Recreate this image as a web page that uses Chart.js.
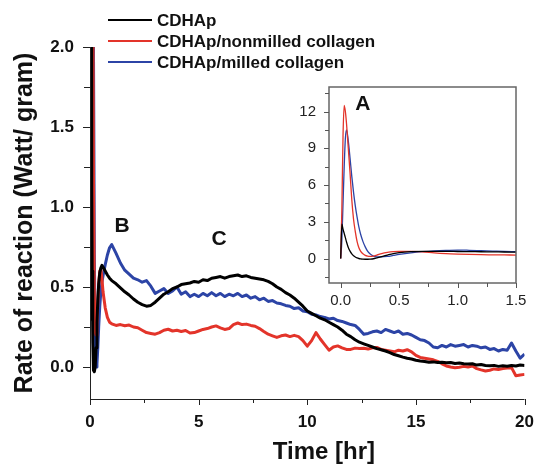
<!DOCTYPE html>
<html>
<head>
<meta charset="utf-8">
<script src="https://cdn.jsdelivr.net/npm/chart.js@4.4.0/dist/chart.umd.min.js"></script>
<style>
  html, body { margin: 0; padding: 0; background: #fff; }
  #wrap { position: relative; width: 541px; height: 465px; }
  #main { position: absolute; left: 0; top: 0; }
  #inset { position: absolute; left: 279px; top: 70px; }
</style>
</head>
<body>
<div id="wrap">
  <canvas id="main" width="541" height="465"></canvas>
  <canvas id="inset" width="262" height="245"></canvas>
</div>
<script>
// ---------------- DATA ----------------
const seriesNames = ['CDHAp', 'CDHAp/nonmilled collagen', 'CDHAp/milled collagen'];
const seriesColors = ['#000000', '#e3342a', '#2c44a6'];

// Main plot: time (hr)
const hours = [
  0, 0.03, 0.05, 0.08, 0.1, 0.13, 0.16, 0.2, 0.24, 0.28, 0.32, 0.36, 0.4, 0.45, 0.5, 0.55, 0.6, 0.7, 0.8, 0.9,
  1.0, 1.2, 1.4, 1.6, 1.8, 2.0, 2.2, 2.4, 2.6, 2.8, 3.0, 3.2, 3.4, 3.6, 3.8, 4.0, 4.2, 4.4, 4.6, 4.8,
  5.0, 5.2, 5.4, 5.6, 5.8, 6.0, 6.2, 6.4, 6.6, 6.8, 7.0, 7.2, 7.4, 7.6, 7.8, 8.0, 8.2, 8.4, 8.6, 8.8,
  9.0, 9.2, 9.4, 9.6, 9.8, 10.0, 10.2, 10.4, 10.6, 10.8, 11.0, 11.2, 11.4, 11.6, 11.8, 12.0, 12.2, 12.4, 12.6, 12.8,
  13.0, 13.2, 13.4, 13.6, 13.8, 14.0, 14.2, 14.4, 14.6, 14.8, 15.0, 15.2, 15.4, 15.6, 15.8, 16.0, 16.2, 16.4, 16.6, 16.8,
  17.0, 17.2, 17.4, 17.6, 17.8, 18.0, 18.2, 18.4, 18.6, 18.8, 19.0, 19.2, 19.4, 19.6, 19.8, 20.0
];

const cdhap = [
  0.3, 2.8, 2.2, 1.1, 0.6, 0.15, -0.02, -0.03, 0.0, 0.12, 0.28, 0.42, 0.52, 0.59, 0.62, 0.635, 0.625, 0.6, 0.575, 0.555,
  0.54, 0.52, 0.495, 0.47, 0.45, 0.425, 0.405, 0.39, 0.38, 0.385, 0.405, 0.43, 0.455, 0.47, 0.49, 0.5, 0.515, 0.52, 0.525, 0.535,
  0.53, 0.545, 0.54, 0.555, 0.56, 0.565, 0.555, 0.565, 0.57, 0.575, 0.565, 0.57, 0.56, 0.555, 0.55, 0.545, 0.535, 0.52, 0.5, 0.485,
  0.465, 0.45, 0.43, 0.405, 0.38, 0.35, 0.335, 0.32, 0.305, 0.295, 0.28, 0.265, 0.25, 0.23, 0.205, 0.19, 0.17, 0.155, 0.145, 0.135,
  0.125, 0.115, 0.108, 0.1, 0.09, 0.078, 0.07, 0.062, 0.055, 0.05, 0.042, 0.038, 0.035, 0.03, 0.032, 0.028, 0.03, 0.026, 0.028, 0.022,
  0.025, 0.02, 0.018, 0.02, 0.012, 0.015, 0.01, 0.008, 0.01, 0.004, 0.008, 0.005, 0.01, 0.006, 0.012, 0.01
];

const nonmilled = [
  0.3, 12.5, 11.0, 7.8, 5.5, 2.5, 1.2, 0.45, 0.22, 0.2, 0.27, 0.4, 0.52, 0.6, 0.61, 0.55, 0.47, 0.37, 0.31, 0.28,
  0.27, 0.26, 0.265, 0.258, 0.262, 0.25, 0.245, 0.23, 0.215, 0.21, 0.205, 0.215, 0.23, 0.236, 0.225, 0.23, 0.222, 0.228, 0.212, 0.215,
  0.225, 0.235, 0.24, 0.25, 0.257, 0.245, 0.235, 0.24, 0.265, 0.275, 0.265, 0.268, 0.26, 0.255, 0.24, 0.222, 0.205, 0.195, 0.185, 0.195,
  0.2, 0.19, 0.198, 0.19, 0.165, 0.13, 0.165, 0.215, 0.175, 0.14, 0.105, 0.125, 0.132, 0.12, 0.11, 0.11, 0.118, 0.115, 0.117, 0.112,
  0.12, 0.122, 0.11, 0.105, 0.1, 0.095, 0.105, 0.1, 0.108, 0.095, 0.072, 0.06, 0.055, 0.05, 0.045, 0.035, 0.02, 0.006, 0.0, -0.005,
  -0.002, 0.004, 0.0, 0.006, -0.01, -0.018, -0.025, -0.02, -0.012, -0.016, -0.01, -0.006, -0.004, -0.055, -0.05, -0.046
];

const milled = [
  0.3, 6.0, 10.5, 8.5, 6.5, 4.0, 2.0, 0.7, 0.15, 0.0, 0.02, 0.12, 0.25, 0.38, 0.47, 0.53, 0.57, 0.64, 0.7, 0.745,
  0.765, 0.71, 0.65, 0.605, 0.58, 0.555, 0.545, 0.53, 0.54, 0.505, 0.46, 0.475, 0.49, 0.46, 0.475, 0.5, 0.455, 0.47, 0.44, 0.455,
  0.44, 0.46, 0.445, 0.465, 0.445, 0.46, 0.44, 0.455, 0.445, 0.46, 0.44, 0.45, 0.43, 0.44, 0.42, 0.43, 0.41, 0.415, 0.4, 0.395,
  0.385, 0.38, 0.365, 0.37, 0.35, 0.345, 0.33, 0.325, 0.315, 0.31, 0.3, 0.305, 0.29, 0.285, 0.275, 0.265, 0.26, 0.235, 0.205, 0.21,
  0.22, 0.225, 0.215, 0.235, 0.225, 0.215, 0.225, 0.205, 0.21, 0.2, 0.185, 0.17, 0.165, 0.15, 0.125, 0.12, 0.135, 0.125, 0.14, 0.13,
  0.135, 0.14, 0.125, 0.135, 0.13, 0.12, 0.125, 0.11, 0.115, 0.1, 0.11, 0.105, 0.15, 0.1, 0.055, 0.08
];

// Inset plot (first 1.5 hr)
const insetHours = [
  0, 0.01, 0.02, 0.03, 0.04, 0.05, 0.065, 0.08, 0.095, 0.11, 0.125, 0.14, 0.155, 0.17, 0.19, 0.21, 0.23, 0.25,
  0.28, 0.31, 0.35, 0.4, 0.45, 0.5, 0.6, 0.7, 0.8, 0.9, 1.0, 1.1, 1.2, 1.3, 1.4, 1.5
];
const insetCdhap = [
  0, 2.8, 2.4, 2.05, 1.7, 1.35, 0.9, 0.6, 0.38, 0.22, 0.12, 0.05, 0.0, -0.03, -0.05, -0.06, -0.06, -0.05,
  -0.02, 0.05, 0.15, 0.28, 0.4, 0.48, 0.56, 0.58, 0.58, 0.58, 0.57, 0.56, 0.55, 0.54, 0.53, 0.52
];
const insetNonmilled = [
  0, 4.0, 10.0, 12.5, 12.0, 11.0, 9.0, 7.0, 4.8, 3.2, 2.2, 1.4, 0.9, 0.6, 0.38, 0.26, 0.2, 0.18,
  0.2, 0.28, 0.4, 0.5, 0.56, 0.58, 0.58, 0.54, 0.46, 0.4, 0.36, 0.33, 0.31, 0.3, 0.29, 0.28
];
const insetMilled = [
  0, 1.5, 4.5, 7.5, 9.8, 10.5, 9.6, 8.2, 6.7, 5.4, 4.3, 3.4, 2.6, 2.0, 1.4, 0.95, 0.6, 0.38,
  0.2, 0.14, 0.13, 0.17, 0.25, 0.33, 0.46, 0.56, 0.63, 0.67, 0.69, 0.67, 0.64, 0.61, 0.58, 0.56
];

// Tick positions (labels are shown on the major ones)
const mainXTicks = [0, 2.5, 5, 7.5, 10, 12.5, 15, 17.5, 20];
const mainYTicks = [0, 0.25, 0.5, 0.75, 1.0, 1.25, 1.5, 1.75, 2.0];
const insetXTicks = [0, 0.25, 0.5, 0.75, 1.0, 1.25, 1.5];
const insetYTicks = [-1.5, 0, 1.5, 3, 4.5, 6, 7.5, 9, 10.5, 12, 13.5];
const mainXMajor = 5, mainYMajor = 0.5, insetXMajor = 0.5, insetYMajor = 3;

// Region labels (in data units)
const mainMarks = [ { text: 'B', x: 1.48, y: 0.88 }, { text: 'C', x: 5.94, y: 0.80 } ];
const insetMarks = [ { text: 'A', x: 0.19, y: 12.6 } ];

// ---------------- HELPERS ----------------
const FONT = "'Liberation Sans', Arial, Helvetica, sans-serif";
function pts(xs, ys) { return xs.map((x, i) => ({ x: x, y: ys[i] })); }
function isMultiple(v, m) { const r = v / m; return Math.abs(r - Math.round(r)) < 1e-6; }
function labeler(major, decimals) {
  return function (value) {
    if (!isMultiple(value, major)) return '';
    return decimals ? Number(value).toFixed(decimals) : String(Math.round(value));
  };
}
function fixedTicks(arr) { return function (scale) { scale.ticks = arr.map(v => ({ value: v })); }; }

const marksPlugin = {
  id: 'marks',
  afterDatasetsDraw(chart, args, opts) {
    const ctx = chart.ctx;
    ctx.save();
    ctx.font = 'bold 21px ' + FONT;
    ctx.fillStyle = '#111';
    ctx.textAlign = 'center';
    ctx.textBaseline = 'middle';
    (opts.items || []).forEach(m => {
      ctx.fillText(m.text, chart.scales.x.getPixelForValue(m.x), chart.scales.y.getPixelForValue(m.y));
    });
    ctx.restore();
  }
};

const legendPlugin = {
  id: 'sideLegend',
  afterDraw(chart, args, opts) {
    if (!opts.enabled) return;
    const ctx = chart.ctx;
    ctx.save();
    ctx.font = 'bold 17px ' + FONT;
    ctx.textBaseline = 'middle';
    ctx.textAlign = 'left';
    chart.data.datasets.forEach((ds, i) => {
      const y = 20 + i * 21;
      ctx.strokeStyle = ds.borderColor;
      ctx.lineWidth = 2;
      ctx.beginPath(); ctx.moveTo(108, y); ctx.lineTo(152, y); ctx.stroke();
      ctx.fillStyle = '#111';
      ctx.fillText(ds.label, 157, y + 1);
    });
    ctx.restore();
  }
};

const framePlugin = {
  id: 'frame',
  afterDraw(chart, args, opts) {
    const a = chart.chartArea, ctx = chart.ctx;
    ctx.save();
    ctx.strokeStyle = opts.color;
    ctx.lineWidth = opts.width;
    if (opts.box) {
      ctx.strokeRect(a.left, a.top, a.right - a.left, a.bottom - a.top);
    } else {
      ctx.beginPath();
      ctx.moveTo(Math.round(a.left) + 0.5, a.top);
      ctx.lineTo(Math.round(a.left) + 0.5, a.bottom + 0.5);
      ctx.lineTo(a.right, a.bottom + 0.5);
      ctx.stroke();
    }
    // outward tick marks from the scales
    ctx.lineWidth = 1;
    ctx.strokeStyle = opts.tickColor;
    const xs = chart.scales.x, ys = chart.scales.y;
    xs.ticks.forEach(t => {
      const px = Math.round(xs.getPixelForValue(t.value)) + 0.5;
      const len = isMultiple(t.value, opts.xMajor) ? opts.xMajorLen : opts.xMinorLen;
      ctx.beginPath(); ctx.moveTo(px, a.bottom); ctx.lineTo(px, a.bottom + len); ctx.stroke();
    });
    ys.ticks.forEach(t => {
      const py = Math.round(ys.getPixelForValue(t.value)) + 0.5;
      const len = isMultiple(t.value, opts.yMajor) ? opts.yMajorLen : opts.yMinorLen;
      ctx.beginPath(); ctx.moveTo(a.left, py); ctx.lineTo(a.left - len, py); ctx.stroke();
    });
    ctx.restore();
  }
};

Chart.register(marksPlugin, legendPlugin, framePlugin);

// ---------------- MAIN CHART ----------------
const mainSets = [cdhap, nonmilled, milled].map((arr, i) => ({
  label: seriesNames[i],
  data: pts(hours, arr),
  borderColor: seriesColors[i],
  backgroundColor: seriesColors[i],
  borderWidth: 3,
  pointRadius: 0,
  tension: 0,
  borderJoinStyle: 'round'
}));

new Chart(document.getElementById('main'), {
  type: 'line',
  data: { datasets: mainSets },
  options: {
    responsive: false,
    animation: false,
    devicePixelRatio: 1,
    parsing: false,
    layout: { padding: { top: 47, right: 13, left: 0, bottom: 0 } },
    plugins: {
      legend: { display: false },
      tooltip: { enabled: false },
      sideLegend: { enabled: true },
      marks: { items: mainMarks },
      frame: { box: false, color: '#222', width: 1, tickColor: '#222',
               xMajor: mainXMajor, yMajor: mainYMajor,
               xMajorLen: 6, xMinorLen: 4, yMajorLen: 7, yMinorLen: 6 }
    },
    scales: {
      x: {
        type: 'linear', min: 0, max: 20,
        afterBuildTicks: fixedTicks(mainXTicks),
        ticks: { autoSkip: false, maxRotation: 0, padding: 7,
                 color: '#111', font: { family: FONT, size: 17, weight: 'bold' },
                 callback: labeler(mainXMajor, 0) },
        grid: { display: false, drawOnChartArea: false, drawTicks: true, tickLength: 6 },
        border: { display: false },
        title: { display: true, text: '     Time [hr]', color: '#111',
                 font: { family: FONT, size: 24, weight: 'bold', lineHeight: 1 },
                 padding: { top: 0, bottom: 1 } },
        afterFit(s) { s.height = 66; }
      },
      y: {
        type: 'linear', min: -0.2, max: 2.0,
        afterBuildTicks: fixedTicks(mainYTicks),
        ticks: { autoSkip: false, padding: 9,
                 color: '#111', font: { family: FONT, size: 17, weight: 'bold' },
                 callback: labeler(mainYMajor, 1) },
        grid: { display: false, drawOnChartArea: false, drawTicks: true, tickLength: 7 },
        border: { display: false },
        title: { display: true, text: 'Rate of reaction (Watt/ gram)', color: '#111',
                 font: { family: FONT, size: 25, weight: 'bold', lineHeight: 1.2 },
                 padding: { top: 10, bottom: 0 } },
        afterFit(s) { s.width = 90; }
      }
    }
  }
});

// ---------------- INSET CHART ----------------
const insetSets = [insetCdhap, insetNonmilled, insetMilled].map((arr, i) => ({
  label: seriesNames[i],
  data: pts(insetHours, arr),
  borderColor: seriesColors[i],
  backgroundColor: seriesColors[i],
  borderWidth: 1.3,
  pointRadius: 0,
  cubicInterpolationMode: 'monotone'
}));

new Chart(document.getElementById('inset'), {
  type: 'line',
  data: { datasets: insetSets },
  options: {
    responsive: false,
    animation: false,
    devicePixelRatio: 1,
    parsing: false,
    layout: { padding: { top: 13, right: 25, left: 0, bottom: 0 } },
    plugins: {
      legend: { display: false },
      tooltip: { enabled: false },
      sideLegend: { enabled: false },
      marks: { items: insetMarks },
      frame: { box: true, color: '#666', width: 1.5, tickColor: '#555',
               xMajor: insetXMajor, yMajor: insetYMajor,
               xMajorLen: 5, xMinorLen: 4, yMajorLen: 5, yMinorLen: 4 }
    },
    scales: {
      x: {
        type: 'linear', min: -0.1, max: 1.5,
        afterBuildTicks: fixedTicks(insetXTicks),
        ticks: { autoSkip: false, maxRotation: 0, padding: 4,
                 color: '#222', font: { family: FONT, size: 15 },
                 callback: labeler(insetXMajor, 1) },
        grid: { display: false, drawOnChartArea: false, drawTicks: true, tickLength: 5 },
        border: { display: false },
        afterFit(s) { s.height = 32; }
      },
      y: {
        type: 'linear', min: -2, max: 14,
        afterBuildTicks: fixedTicks(insetYTicks),
        ticks: { autoSkip: false, padding: 8,
                 color: '#222', font: { family: FONT, size: 15 },
                 callback: labeler(insetYMajor, 0) },
        grid: { display: false, drawOnChartArea: false, drawTicks: true, tickLength: 5 },
        border: { display: false },
        afterFit(s) { s.width = 50; }
      }
    }
  }
});
</script>
</body>
</html>
